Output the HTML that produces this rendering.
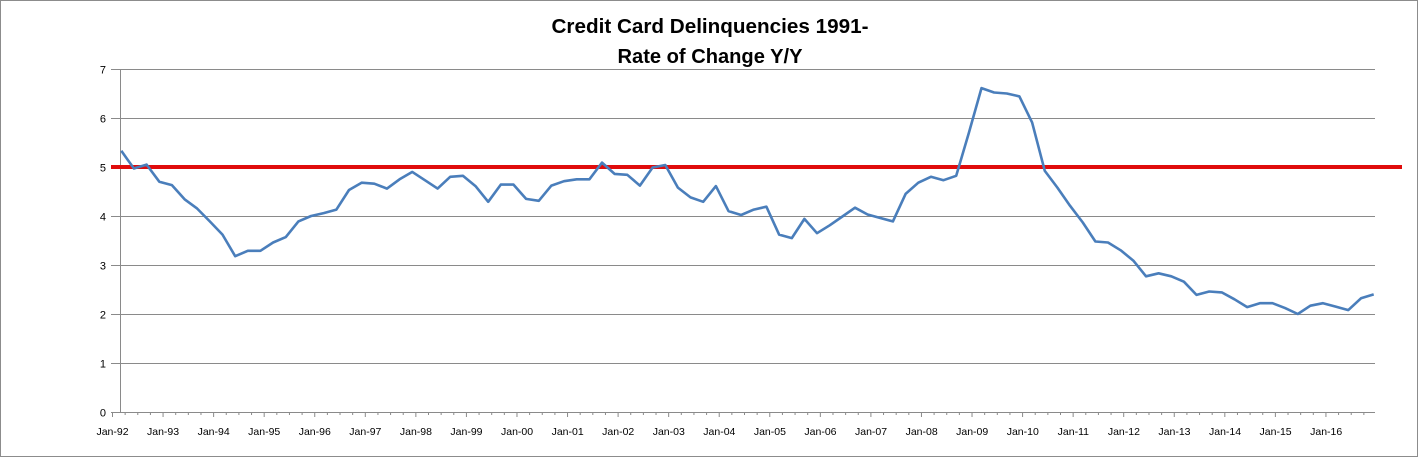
<!DOCTYPE html>
<html><head><meta charset="utf-8"><style>
html,body{margin:0;padding:0;background:#fff;}
svg{display:block;font-family:"Liberation Sans",sans-serif;}
</style></head><body>
<svg id="c" width="1419" height="458" viewBox="0 0 1419 458" xmlns="http://www.w3.org/2000/svg">
<rect x="0.5" y="0.5" width="1417" height="456" fill="#fff" stroke="#8c8c8c"/>
<text x="710" y="33" text-anchor="middle" font-size="20" font-weight="bold" textLength="317" lengthAdjust="spacingAndGlyphs">Credit Card Delinquencies 1991-</text>
<text x="710" y="63" text-anchor="middle" font-size="20" font-weight="bold" textLength="185" lengthAdjust="spacingAndGlyphs">Rate of Change Y/Y</text>
<g id="grid" stroke="#8a8a8a" stroke-width="1"></g>
<g id="yl" font-size="11" fill="#000" text-anchor="end"></g>
<g id="xl" font-size="10.5" fill="#000" text-anchor="middle"></g>
<line x1="111" y1="167" x2="1402" y2="167" stroke="#e00c0c" stroke-width="4"/>
<polyline id="ln" fill="none" stroke="#4a7ebb" stroke-width="2.6" stroke-linejoin="round"/>
</svg>
<script>
var NS="http://www.w3.org/2000/svg";
function el(p,t,a,txt){var e=document.createElementNS(NS,t);for(var k in a)e.setAttribute(k,a[k]);if(txt!=null)e.textContent=txt;document.getElementById(p).appendChild(e);return e;}
function Y(v){return 412-49*v;}
for(var v=0;v<=7;v++){var y=Y(v)+0.5;el("grid","line",{x1:111,y1:y,x2:1375,y2:y});el("yl","text",{x:106,y:y+4},String(v));}
el("grid","line",{x1:120.5,y1:69,x2:120.5,y2:412});
var labs=["92","93","94","95","96","97","98","99","00","01","02","03","04","05","06","07","08","09","10","11","12","13","14","15","16"];
for(var k=0;k<=100;k++){var x=112.5+12.64*k;if(x>1375)break;var major=(k%4==0);el("grid","line",{x1:x,y1:412,x2:x,y2:major?417:415});}
for(var j=0;j<labs.length;j++){var x=112.5+50.57*j;el("xl","text",{x:x,y:435},"Jan-"+labs[j]);}
var d=[5.33,4.97,5.05,4.70,4.63,4.34,4.15,3.89,3.62,3.18,3.29,3.29,3.46,3.57,3.89,4.0,4.06,4.13,4.53,4.68,4.66,4.56,4.75,4.90,4.73,4.56,4.80,4.82,4.61,4.29,4.64,4.64,4.35,4.31,4.62,4.71,4.75,4.75,5.09,4.86,4.84,4.62,4.99,5.04,4.58,4.38,4.29,4.61,4.10,4.02,4.13,4.19,3.62,3.55,3.94,3.65,3.81,3.99,4.17,4.03,3.96,3.89,4.45,4.68,4.80,4.73,4.82,5.70,6.61,6.52,6.50,6.44,5.91,4.92,4.58,4.21,3.87,3.48,3.46,3.30,3.09,2.77,2.83,2.77,2.66,2.39,2.46,2.44,2.30,2.14,2.22,2.22,2.12,2.0,2.17,2.22,2.15,2.08,2.32,2.40];
var pts=d.map(function(v,i){return (121.3+12.65*i).toFixed(1)+","+Y(v).toFixed(1);}).join(" ");
document.getElementById("ln").setAttribute("points",pts);
</script>
</body></html>
